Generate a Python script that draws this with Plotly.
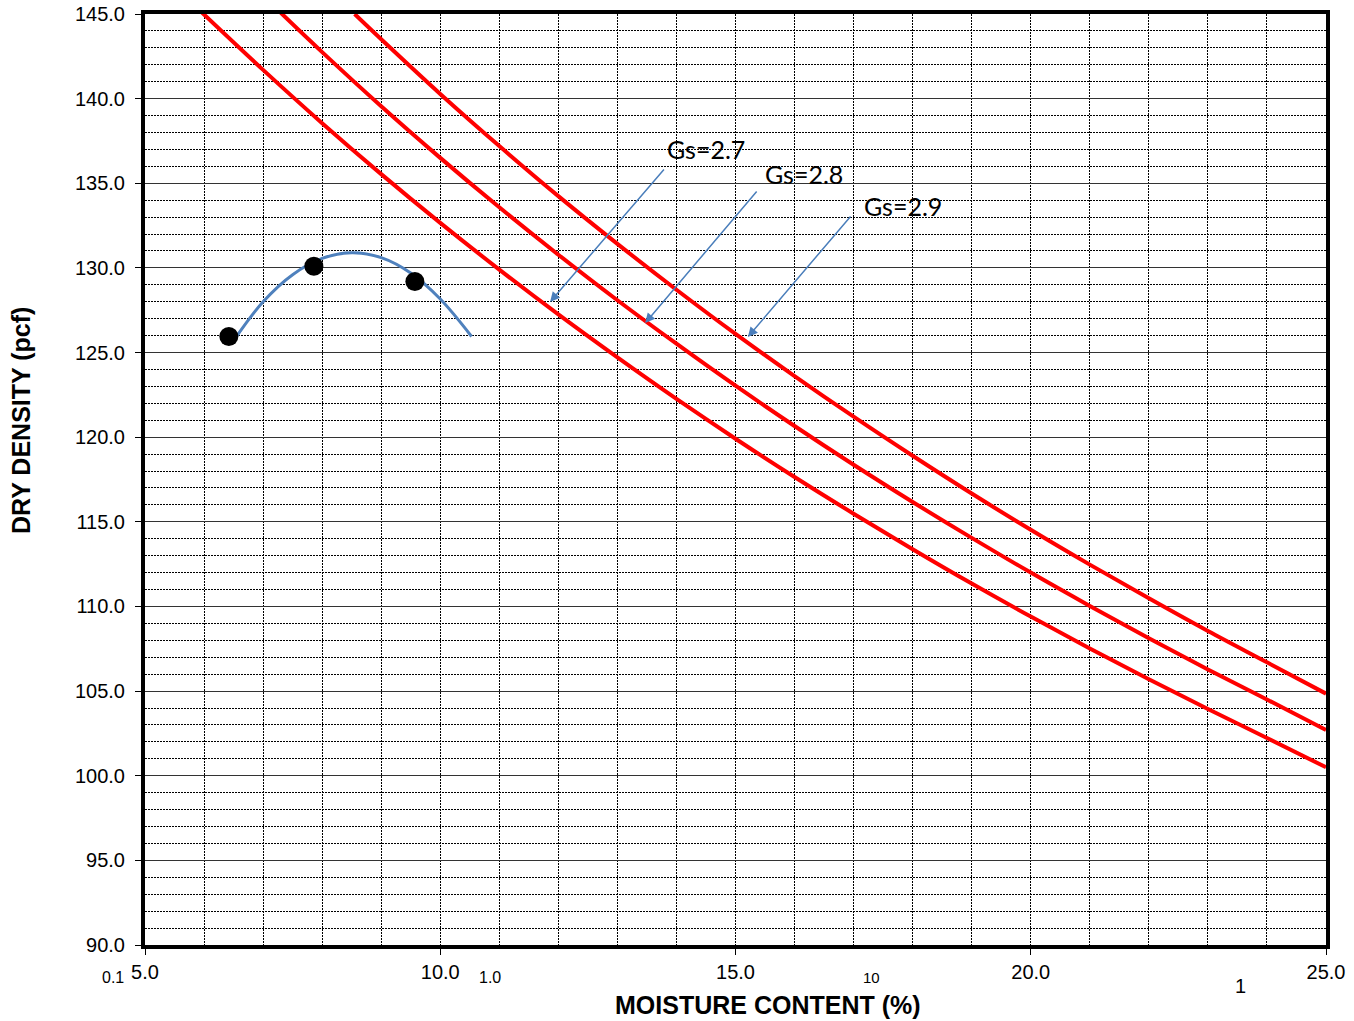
import plotly.graph_objects as go

# zero air voids lines
w_27 = [5.9, 7, 8, 9, 10, 11, 12, 13, 14, 15, 16, 17, 18, 19, 20, 21, 22, 23, 24, 25]
d_27 = [145.3, 141.7, 138.55, 135.54, 132.66, 129.9, 127.25, 124.71, 122.26, 119.91,
        117.65, 115.48, 113.38, 111.35, 109.4, 107.52, 105.7, 103.94, 102.23, 100.5]
w_28 = [7.3, 8, 9, 10, 11, 12, 13, 14, 15, 16, 17, 18, 19, 20, 21, 22, 23, 24, 25]
d_28 = [145.07, 142.75, 139.55, 136.5, 133.58, 130.78, 128.09, 125.52, 123.04, 120.66,
        118.37, 116.17, 114.05, 112.0, 110.03, 108.12, 106.28, 104.5, 102.7]
w_29 = [8.55, 9, 10, 11, 12, 13, 14, 15, 16, 17, 18, 19, 20, 21, 22, 23, 24, 25]
d_29 = [145.0, 143.51, 140.28, 137.2, 134.24, 131.42, 128.71, 126.1, 123.61, 121.21,
        118.9, 116.67, 114.53, 112.47, 110.48, 108.55, 106.7, 104.85]

# compaction test points
test_w = [6.42, 7.86, 9.57]
test_d = [125.95, 130.1, 129.2]

# fitted curve through the test points
fit_w = [6.55, 7.0, 7.5, 8.0, 8.5, 9.0, 9.5, 10.0, 10.53]
fit_d = [125.95, 128.0, 129.6, 130.56, 130.9, 130.61, 129.7, 128.16, 125.95]

# plot area in page pixels (reference)
PL, PR, PT, PB = 145, 1326, 14, 945


def px2paper(px, py):
    return (px - PL) / (PR - PL), (PB - py) / (PB - PT)


fig = go.Figure()
for w, d in [(w_27, d_27), (w_28, d_28), (w_29, d_29)]:
    fig.add_trace(go.Scatter(x=w, y=d, mode='lines', line=dict(color='#ff0000', width=4),
                             line_shape='spline', showlegend=False))
fig.add_trace(go.Scatter(x=fit_w, y=fit_d, mode='lines', line=dict(color='#4f81bd', width=3),
                         line_shape='spline', showlegend=False))
fig.add_trace(go.Scatter(x=test_w, y=test_d, mode='markers',
                         marker=dict(color='black', size=19), showlegend=False))

# Gs labels and arrows
labels = [('Gs=2.7', 14.50, 137.02, 11.86, 127.99, 13.81, 135.90),
          ('Gs=2.8', 16.16, 135.55, 13.47, 126.74, 15.38, 134.60),
          ('Gs=2.9', 17.84, 133.66, 15.21, 125.92, 16.97, 133.13)]
for txt, tx, ty, hx, hy, ax, ay in labels:
    fig.add_annotation(x=tx, y=ty, text=txt, showarrow=False,
                       font=dict(family='Lato', size=25, color='black'))
    fig.add_annotation(x=hx, y=hy, ax=ax, ay=ay, axref='x', ayref='y', text='',
                       showarrow=True, arrowhead=2, arrowsize=1.3, arrowwidth=1.5,
                       arrowcolor='#4a7ebb')

# stray labels left over from the source sheet
for txt, px, py, sz in [('0.1', 113, 978, 16), ('1.0', 490, 978, 16),
                        ('10', 871, 978, 15), ('1', 1240, 986, 20)]:
    xp, yp = px2paper(px, py)
    fig.add_annotation(x=xp, y=yp, xref='paper', yref='paper',
                       text=txt, showarrow=False, xanchor='center', yanchor='middle',
                       font=dict(family='Liberation Sans', size=sz, color='black'))

xp, yp = px2paper(768, 1005)
fig.add_annotation(x=xp, y=yp, xref='paper', yref='paper',
                   text='<b>MOISTURE CONTENT (%)</b>', showarrow=False,
                   xanchor='center', yanchor='middle',
                   font=dict(family='Liberation Sans', size=25, color='black'))
xp, yp = px2paper(21, 421)
fig.add_annotation(x=xp, y=yp, xref='paper', yref='paper',
                   text='<b>DRY DENSITY (pcf)</b>', showarrow=False, textangle=-90,
                   xanchor='center', yanchor='middle',
                   font=dict(family='Liberation Sans', size=25, color='black'))

fig.update_layout(width=1354, height=1021,
                  margin=dict(l=PL, r=1354 - PR, t=PT, b=1021 - PB),
                  paper_bgcolor='white', plot_bgcolor='white',
                  font=dict(family='Liberation Sans', size=20, color='black'))

fig.update_xaxes(range=[5, 25], dtick=5, tick0=5, tickformat='.1f', automargin=False,
                 ticklabeloverflow='allow',
                 showgrid=True, gridcolor='black', gridwidth=1, griddash='2px,1px',
                 minor=dict(dtick=1, showgrid=True, gridcolor='black', gridwidth=1,
                            griddash='2px,1px'),
                 showline=True, linecolor='black', linewidth=4, mirror=True,
                 ticks='outside', ticklen=6, tickcolor='black', zeroline=False)
fig.update_yaxes(range=[90, 145], dtick=5, tick0=90, tickformat='.1f', automargin=False,
                 ticklabeloverflow='allow',
                 showgrid=True, gridcolor='#333', gridwidth=1,
                 minor=dict(dtick=1, showgrid=True, gridcolor='black', gridwidth=1,
                            griddash='2px,1px'),
                 showline=True, linecolor='black', linewidth=4, mirror=True,
                 ticks='outside', ticklen=6, tickcolor='black', zeroline=False,
                 ticklabelstandoff=6)

# drop the default 8px page margin so the figure sits at the window corner
fig.write_html("out.html", config={'displayModeBar': False},
               post_script="document.body.style.margin='0';")
